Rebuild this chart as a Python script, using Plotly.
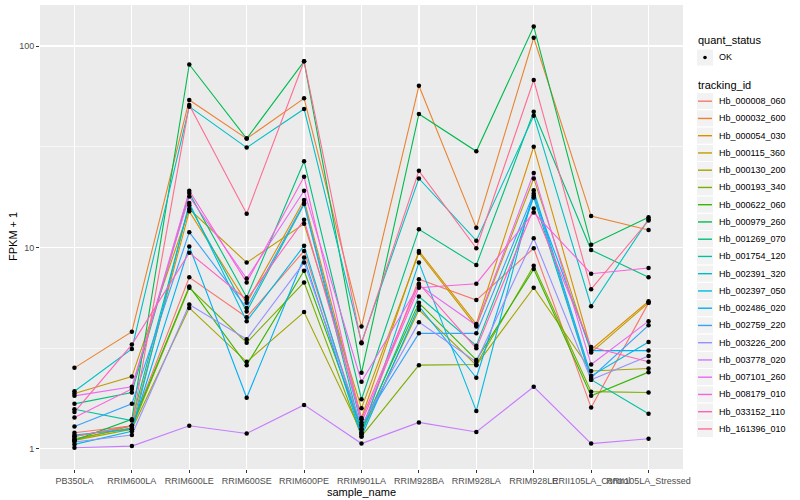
import plotly.graph_objects as go

categories = ["PB350LA", "RRIM600LA", "RRIM600LE", "RRIM600SE", "RRIM600PE", "RRIM901LA",
              "RRIM928BA", "RRIM928LA", "RRIM928LE", "RRII105LA_Control", "RRII105LA_Stressed"]

tracking_ids = ["Hb_000008_060", "Hb_000032_600", "Hb_000054_030", "Hb_000115_360", "Hb_000130_200",
                "Hb_000193_340", "Hb_000622_060", "Hb_000979_260", "Hb_001269_070", "Hb_001754_120",
                "Hb_002391_320", "Hb_002397_050", "Hb_002486_020", "Hb_002759_220", "Hb_003226_200",
                "Hb_003778_020", "Hb_007101_260", "Hb_008179_010", "Hb_033152_110", "Hb_161396_010"]

quant_status = ["OK"]

hb_000008_060 = [1.2, 1.3, 7.1, 4.5, 9.6, 1.25, 6.94, 5.47, 9.9, 1.6, 5.3]
hb_000032_600 = [2.52, 3.81, 54, 34.7, 55, 4.04, 63.5, 12.5, 110, 14.3, 12.2]
hb_000054_030 = [1.1, 1.3, 15.1, 5.3, 17.2, 1.42, 9.6, 4.16, 31.6, 3.1, 5.4]
hb_000115_360 = [1.88, 2.28, 15.5, 8.4, 13.1, 1.59, 9.4, 4.04, 22.0, 3.0, 5.3]
hb_000130_200 = [1.1, 1.25, 5.0, 2.7, 4.77, 1.2, 4.9, 2.6, 6.3, 2.43, 2.5]
hb_000193_340 = [1.12, 1.27, 6.3, 3.36, 6.7, 1.15, 2.6, 2.62, 8.1, 1.92, 1.9]
hb_000622_060 = [1.15, 1.3, 6.4, 2.6, 7.65, 1.25, 5.3, 2.76, 7.8, 1.83, 2.4]
hb_000979_260 = [1.1, 1.4, 81, 34.7, 84, 2.38, 46, 30, 125, 10.3, 14.1]
hb_001269_070 = [1.67, 1.9, 18.6, 5.65, 26.8, 1.76, 12.3, 8.17, 47.2, 9.7, 7.1]
hb_001754_120 = [1.57, 1.38, 16.2, 4.8, 16.4, 1.2, 5.7, 3.25, 17.7, 2.2, 1.49]
hb_002391_320 = [1.93, 3.13, 50, 31.3, 48.7, 3.37, 22, 10.8, 45, 5.1, 13.8]
hb_002397_050 = [1.05, 1.22, 16.6, 4.3, 10.2, 1.18, 8.4, 1.54, 19.2, 2.3, 3.39]
hb_002486_020 = [1.17, 1.25, 10.1, 1.79, 8.9, 1.15, 5.1, 2.25, 18.1, 3.07, 3.07]
hb_002759_220 = [1.29, 1.67, 11.9, 5.0, 16.6, 1.31, 3.74, 3.74, 18.5, 2.25, 4.1]
hb_003226_200 = [1.08, 1.17, 5.2, 3.5, 8.4, 1.3, 4.25, 2.7, 11.1, 2.2, 2.89]
hb_003778_020 = [1.01, 1.03, 1.3, 1.19, 1.65, 1.06, 1.35, 1.21, 2.03, 1.06, 1.12]
hb_007101_260 = [1.83, 2.03, 17.9, 7.0, 19.1, 2.15, 6.5, 4.1, 23.4, 2.62, 4.3]
hb_008179_010 = [1.43, 1.98, 19.1, 6.7, 22.4, 1.35, 6.3, 6.6, 14.9, 7.4, 7.9]
hb_033152_110 = [1.52, 3.29, 9.4, 5.5, 13.7, 1.4, 6.6, 3.15, 15.6, 3.2, 2.7]
hb_161396_010 = [1.15, 1.3, 51, 14.7, 84, 3.34, 24, 9.9, 67.8, 6.2, 13.6]

series_values = [hb_000008_060, hb_000032_600, hb_000054_030, hb_000115_360, hb_000130_200,
                 hb_000193_340, hb_000622_060, hb_000979_260, hb_001269_070, hb_001754_120,
                 hb_002391_320, hb_002397_050, hb_002486_020, hb_002759_220, hb_003226_200,
                 hb_003778_020, hb_007101_260, hb_008179_010, hb_033152_110, hb_161396_010]

colors = ["#F8766D", "#EA8331", "#D89000", "#C09B00", "#A3A500", "#7CAE00", "#39B600", "#00BB4E",
          "#00BF7D", "#00C1A3", "#00BFC4", "#00BAE0", "#00B0F6", "#35A2FF", "#9590FF", "#C77CFF",
          "#E76BF3", "#FA62DB", "#FF62BC", "#FF6C91"]

FONT = "Liberation Sans, Arial, Helvetica, sans-serif"
W, H = 800, 500
ML, MR, MT, MB = 40, 117, 5, 31
PW, PH = W - ML - MR, H - MT - MB


def px_x(x):
    return (x - ML) / PW


def px_y(y):
    return 1 - (y - MT) / PH


fig = go.Figure()

for i, (tid, vals) in enumerate(zip(tracking_ids, series_values)):
    fig.add_trace(go.Scatter(
        x=categories, y=vals, mode="lines", name=tid,
        line=dict(color=colors[i], width=1.1), showlegend=False,
    ))

all_x, all_y = [], []
for vals in series_values:
    all_x.extend(categories)
    all_y.extend(vals)

fig.add_trace(go.Scatter(
    x=all_x, y=all_y, mode="markers", name=quant_status[0],
    marker=dict(color="#000000", size=4.5, symbol="circle"), showlegend=False,
))

shapes = []
annotations = []
title_font = dict(family=FONT, size=11, color="#000000")
label_font = dict(family=FONT, size=9, color="#000000")

# axis titles
annotations.append(dict(x=px_x(13), y=px_y(237), xref="paper", yref="paper", text="FPKM + 1",
                        textangle=-90, showarrow=False, xanchor="center", yanchor="middle", font=title_font))
annotations.append(dict(x=px_x(361.5), y=px_y(492), xref="paper", yref="paper", text="sample_name",
                        showarrow=False, xanchor="center", yanchor="middle", font=title_font))

# ---- manual ggplot-style legend ----
key_x0, key_x1 = 696.5, 713.5
text_x = 716.5
annotations.append(dict(x=px_x(696), y=px_y(40.5), xref="paper", yref="paper", text="quant_status",
                        showarrow=False, xanchor="left", yanchor="middle", font=title_font))
shapes.append(dict(type="rect", xref="paper", yref="paper", x0=px_x(key_x0), x1=px_x(key_x1),
                   y0=px_y(49), y1=px_y(66), fillcolor="#F2F2F2", line=dict(color="#FFFFFF", width=1),
                   layer="above"))
shapes.append(dict(type="circle", xref="paper", yref="paper", x0=px_x(703.2), x1=px_x(706.8),
                   y0=px_y(55.7), y1=px_y(59.3), fillcolor="#000000", line=dict(color="#000000", width=0),
                   layer="above"))
annotations.append(dict(x=px_x(text_x), y=px_y(57.5), xref="paper", yref="paper", text=quant_status[0],
                        showarrow=False, xanchor="left", yanchor="middle", font=label_font))

annotations.append(dict(x=px_x(696), y=px_y(84.5), xref="paper", yref="paper", text="tracking_id",
                        showarrow=False, xanchor="left", yanchor="middle", font=title_font))
step = 17.25
first_c = 101.2
for i, tid in enumerate(tracking_ids):
    c = first_c + i * step
    shapes.append(dict(type="rect", xref="paper", yref="paper", x0=px_x(key_x0), x1=px_x(key_x1),
                       y0=px_y(c - step / 2), y1=px_y(c + step / 2), fillcolor="#F2F2F2",
                       line=dict(color="#FFFFFF", width=1), layer="above"))
    shapes.append(dict(type="line", xref="paper", yref="paper", x0=px_x(698), x1=px_x(712),
                       y0=px_y(c), y1=px_y(c), line=dict(color=colors[i], width=1.4), layer="above"))
    annotations.append(dict(x=px_x(text_x), y=px_y(c), xref="paper", yref="paper", text=tid,
                            showarrow=False, xanchor="left", yanchor="middle", font=label_font))

fig.update_layout(
    width=W, height=H,
    margin=dict(l=ML, r=MR, t=MT, b=MB, autoexpand=False),
    paper_bgcolor="#FFFFFF",
    plot_bgcolor="#EBEBEB",
    font=dict(family=FONT, size=9, color="#4D4D4D"),
    showlegend=False,
    shapes=shapes,
    annotations=annotations,
    xaxis=dict(
        type="category", categoryorder="array", categoryarray=categories,
        range=[-0.6, 10.6], tickangle=0,
        showgrid=True, gridcolor="#FFFFFF", gridwidth=1.2,
        ticks="outside", ticklen=3, tickcolor="#333333", tickwidth=1,
        tickfont=dict(size=9, color="#4D4D4D"),
        zeroline=False, showline=False, automargin=False,
    ),
    yaxis=dict(
        type="log", range=[-0.101, 2.204],
        tickvals=[1, 10, 100], ticktext=["1", "10", "100"],
        showgrid=True, gridcolor="#FFFFFF", gridwidth=1.2,
        minor=dict(tickvals=[3.1623, 31.623], showgrid=True, gridcolor="#FFFFFF", gridwidth=0.6, ticks=""),
        ticks="outside", ticklen=3, tickcolor="#333333", tickwidth=1,
        tickfont=dict(size=9, color="#4D4D4D"),
        zeroline=False, showline=False, automargin=False,
    ),
)

fig.write_html("out.html", config={"displayModeBar": False, "staticPlot": True},
               post_script="document.body.style.margin='0px';document.body.style.overflow='hidden';")
